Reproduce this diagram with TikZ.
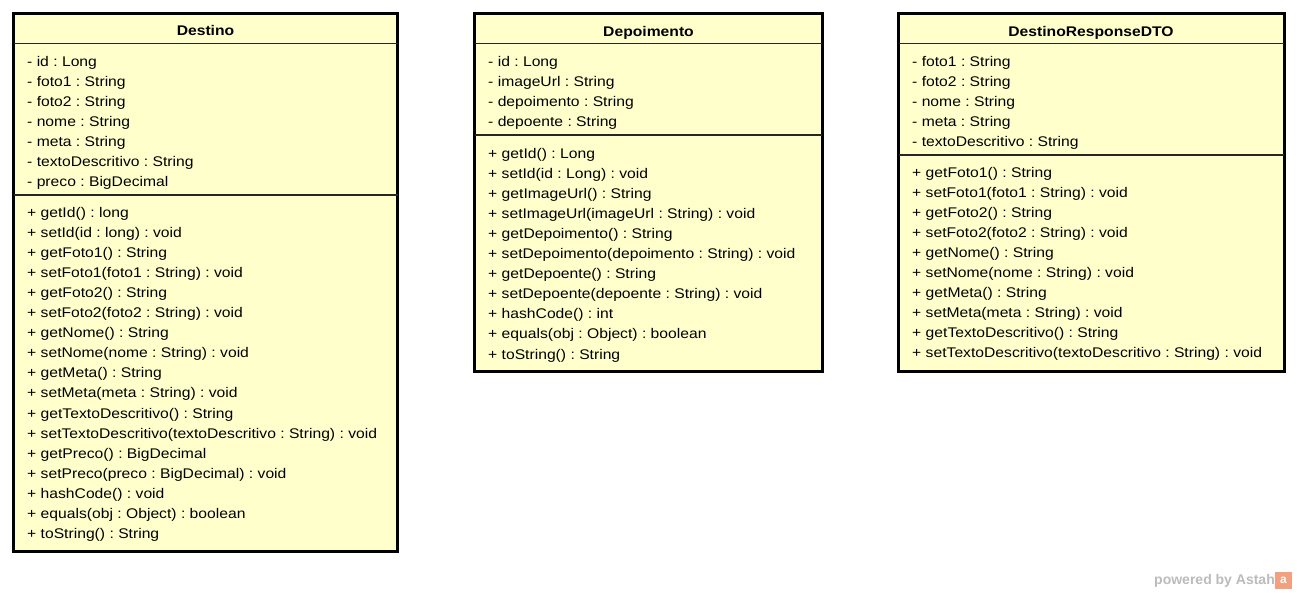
\documentclass[tikz,border=0pt]{standalone}
\usepackage{fontspec}
\setmainfont[FakeStretch=1.12]{Liberation Sans}
\newfontfamily\plainsans{Liberation Sans}
\definecolor{classfill}{HTML}{FFFFCC}
\definecolor{astahgray}{HTML}{BBBBBB}
\definecolor{astahorange}{HTML}{F2A07E}
\frenchspacing
\begin{document}
\begin{tikzpicture}[x=1pt,y=-1pt,
  frame/.style={draw=black, line width=3pt, fill=classfill, inner sep=0pt, outer sep=0pt, anchor=north west},
  sepline/.style={draw=black!85, line width=1.1pt},
  member/.style={anchor=base west, inner sep=0pt, font=\fontsize{14}{16}\selectfont},
  title/.style={anchor=base, inner sep=0pt, font=\fontsize{14}{16}\selectfont\bfseries}]
\useasboundingbox (0,0) rectangle (1297,592);

% ---------- Destino ----------
\node[frame, minimum width=384pt, minimum height=537.5pt] (destino) at (13.5,13.5) {};
\draw[sepline] (destino.west |- 0,43.5) -- (destino.east |- 0,43.5);
\draw[sepline] (destino.west |- 0,195) -- (destino.east |- 0,195);
\node[title] (destinoT) at (205.5,35) {Destino};
\foreach \t [count=\i] in {- id : Long, - foto1 : String, - foto2 : String, - nome : String, - meta : String, - textoDescritivo : String, - preco : BigDecimal}
  \node[member] (destinoA\i) at (27,{66+20.1*(\i-1)}) {\t};
\foreach \t [count=\i] in {+ getId() : long, + setId(id : long) : void, + getFoto1() : String, + setFoto1(foto1 : String) : void, + getFoto2() : String, + setFoto2(foto2 : String) : void, + getNome() : String, + setNome(nome : String) : void, + getMeta() : String, + setMeta(meta : String) : void, + getTextoDescritivo() : String, + setTextoDescritivo(textoDescritivo : String) : void, + getPreco() : BigDecimal, + setPreco(preco : BigDecimal) : void, + hashCode() : void, + equals(obj : Object) : boolean, + toString() : String}
  \node[member] (destinoM\i) at (27,{217+20.1*(\i-1)}) {\t};

% ---------- Depoimento ----------
\node[frame, minimum width=347.5pt, minimum height=358pt] (depo) at (474.75,13.5) {};
\draw[sepline] (depo.west |- 0,43.5) -- (depo.east |- 0,43.5);
\draw[sepline] (depo.west |- 0,135) -- (depo.east |- 0,135);
\node[title] (depoT) at (648.5,36) {Depoimento};
\foreach \t [count=\i] in {- id : Long, - imageUrl : String, - depoimento : String, - depoente : String}
  \node[member] (depoA\i) at (488,{66+20.1*(\i-1)}) {\t};
\foreach \t [count=\i] in {+ getId() : Long, + setId(id : Long) : void, + getImageUrl() : String, + setImageUrl(imageUrl : String) : void, + getDepoimento() : String, + setDepoimento(depoimento : String) : void, + getDepoente() : String, + setDepoente(depoente : String) : void, + hashCode() : int, + equals(obj : Object) : boolean, + toString() : String}
  \node[member] (depoM\i) at (488,{158+20.1*(\i-1)}) {\t};

% ---------- DestinoResponseDTO ----------
\node[frame, minimum width=385.5pt, minimum height=357.5pt] (dto) at (898.5,13.5) {};
\draw[sepline] (dto.west |- 0,43.5) -- (dto.east |- 0,43.5);
\draw[sepline] (dto.west |- 0,155) -- (dto.east |- 0,155);
\node[title] (dtoT) at (1091,36) {DestinoResponseDTO};
\foreach \t [count=\i] in {- foto1 : String, - foto2 : String, - nome : String, - meta : String, - textoDescritivo : String}
  \node[member] (dtoA\i) at (912,{66+20.1*(\i-1)}) {\t};
\foreach \t [count=\i] in {+ getFoto1() : String, + setFoto1(foto1 : String) : void, + getFoto2() : String, + setFoto2(foto2 : String) : void, + getNome() : String, + setNome(nome : String) : void, + getMeta() : String, + setMeta(meta : String) : void, + getTextoDescritivo() : String, + setTextoDescritivo(textoDescritivo : String) : void}
  \node[member] (dtoM\i) at (912,{177+20.1*(\i-1)}) {\t};

% ---------- powered by Astah ----------
\node[anchor=base east, inner sep=0pt, text=astahgray, font=\plainsans\fontsize{14}{16}\selectfont\bfseries] (powered) at (1275,584) {powered by Astah};
\node[fill=astahorange, minimum width=17pt, minimum height=17pt, inner sep=0pt, outer sep=0pt, anchor=north west] (logo) at (1275,572) {};
\node[text=white, inner sep=0pt, font=\plainsans\fontsize{12}{12}\selectfont\bfseries] (logoA) at (logo.center) {a};
\end{tikzpicture}
\end{document}
